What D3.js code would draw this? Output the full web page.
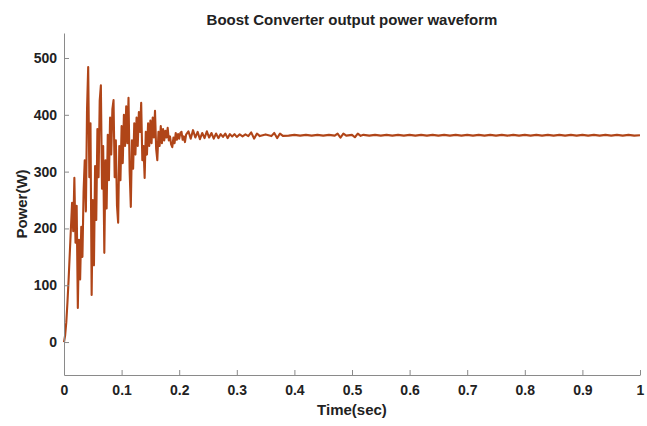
<!DOCTYPE html>
<html>
<head>
<meta charset="utf-8">
<script src="https://cdn.jsdelivr.net/npm/d3@7"></script>
<style>
  body { margin: 0; background: #fff; }
  text { font-family: "Liberation Sans", Arial, sans-serif; }
</style>
</head>
<body>
<div id="chart"></div>
<script>
// waveform samples (time in s, power in W)
const timeTransient = [
  0.000, 0.002, 0.004, 0.006, 0.008, 0.010, 0.012, 0.014, 0.016, 0.018,
  0.020, 0.022, 0.024, 0.026, 0.028, 0.030, 0.032, 0.034, 0.036, 0.038,
  0.040, 0.042, 0.044, 0.046, 0.048, 0.050, 0.052, 0.054, 0.056, 0.058,
  0.060, 0.062, 0.064, 0.066, 0.068, 0.070, 0.072, 0.074, 0.076, 0.078,
  0.080, 0.082, 0.084, 0.086, 0.088, 0.090, 0.092, 0.094, 0.096, 0.098,
  0.100, 0.102, 0.104, 0.106, 0.108, 0.110, 0.112, 0.114, 0.116, 0.118,
  0.120, 0.122, 0.124, 0.126, 0.128, 0.130, 0.132, 0.134, 0.136, 0.138,
  0.140, 0.142, 0.144, 0.146, 0.148, 0.150, 0.152, 0.154, 0.156, 0.158,
  0.160, 0.162, 0.164, 0.166, 0.168, 0.170, 0.172, 0.174, 0.176, 0.178,
  0.180, 0.182, 0.184, 0.186, 0.188, 0.190, 0.192, 0.194, 0.196, 0.198,
  0.200, 0.202, 0.204, 0.206, 0.208, 0.210, 0.212
];
const powerTransient = [
  0, 12, 35, 70, 110, 155, 200, 245, 195, 289,
  175, 240, 60, 180, 110, 203, 150, 265, 320, 230,
  410, 484, 290, 385, 83, 250, 135, 310, 215, 375,
  290, 425, 452, 270, 345, 157, 320, 235, 365, 285,
  395, 330, 410, 426, 290, 355, 240, 210, 345, 285,
  380, 315, 400, 345, 415, 350, 430, 300, 238, 355,
  305, 385, 330, 395, 345, 405, 370, 421, 320, 345,
  289, 370, 330, 385, 345, 390, 350, 395, 360, 407,
  340, 320, 370, 345, 380, 350, 375, 355, 372, 360,
  377, 355, 362, 348, 343, 360, 350, 368, 356, 366,
  358, 368, 370, 356, 362, 352, 365
];
const timeSettling = [
  0.216, 0.220, 0.224, 0.228, 0.232, 0.236, 0.240, 0.244, 0.248, 0.252,
  0.256, 0.260, 0.264, 0.268, 0.272, 0.276, 0.280, 0.284, 0.288, 0.292,
  0.296, 0.300, 0.305, 0.310, 0.315, 0.320, 0.325, 0.330, 0.335, 0.340,
  0.350, 0.360, 0.365, 0.370, 0.375, 0.380
];
const powerSettling = [
  371, 358, 373, 360, 370, 357, 368, 359, 371, 360,
  368, 358, 367, 359, 366, 361, 367, 359, 366, 362,
  366, 361, 365.5, 362, 365.5, 362.5, 369, 358, 367, 362.5,
  365.5, 362.5, 368, 359, 367, 363
];
const timeSteady = [
  0.39, 0.40, 0.41, 0.42, 0.43, 0.44, 0.45, 0.46, 0.47, 0.475,
  0.48, 0.485, 0.49, 0.50, 0.505, 0.51, 0.515, 0.52, 0.53, 0.54,
  0.55, 0.56, 0.57, 0.58, 0.59, 0.60, 0.61, 0.62, 0.63, 0.64,
  0.65, 0.66, 0.67, 0.68, 0.69, 0.70, 0.71, 0.72, 0.73, 0.74,
  0.75, 0.76, 0.77, 0.78, 0.79, 0.80, 0.81, 0.82, 0.83, 0.84,
  0.85, 0.86, 0.87, 0.88, 0.89, 0.90, 0.91, 0.92, 0.93, 0.94,
  0.95, 0.96, 0.97, 0.98, 0.99, 1.00
];
const powerSteady = [
  363.3, 364.7, 363.3, 364.7, 363.3, 364.7, 363.3, 364.7, 363.3, 367,
  360, 367, 363.3, 364.7, 360.5, 367, 363, 364.7, 363.3, 364.7,
  363.3, 364.7, 363.3, 364.7, 363.3, 364.7, 363.3, 364.7, 363.3, 364.7,
  363.3, 364.7, 363.3, 364.7, 363.3, 364.7, 363.3, 364.7, 363.3, 364.7,
  363.3, 364.7, 363.3, 364.7, 363.3, 364.7, 363.3, 364.7, 363.3, 364.7,
  363.3, 364.7, 363.3, 364.7, 363.3, 364.7, 363.3, 364.7, 363.3, 364.7,
  363.3, 364.7, 363.3, 364.7, 363.3, 364
];

const xTicks = [0, 0.1, 0.2, 0.3, 0.4, 0.5, 0.6, 0.7, 0.8, 0.9, 1];
const yTicks = [0, 100, 200, 300, 400, 500];

const data = [
  ...timeTransient.map((t, i) => ({ t, p: powerTransient[i] })),
  ...timeSettling.map((t, i) => ({ t, p: powerSettling[i] })),
  ...timeSteady.map((t, i) => ({ t, p: powerSteady[i] }))
];

// svg & margins
const W = 647, H = 426;
const margin = { top: 33, right: 7, bottom: 51, left: 64 };
const width  = W - margin.left - margin.right;
const height = H - margin.top - margin.bottom;

const svg = d3.select("#chart").append("svg")
  .attr("width", W)
  .attr("height", H);

const g = svg.append("g")
  .attr("transform", `translate(${margin.left},${margin.top})`);

const x = d3.scaleLinear().domain([0, 1]).range([0, width]);
const y = d3.scaleLinear().domain([-58, 544]).range([height, 0]);

const axisColor = "#8a8a8a";

// line
const lineGen = d3.line()
  .x(d => x(d.t))
  .y(d => y(d.p));

g.append("path")
  .datum(data)
  .attr("fill", "none")
  .attr("stroke", "#b04518")
  .attr("stroke-width", 2.1)
  .attr("stroke-linejoin", "round")
  .attr("d", lineGen);

// axes (ticks pointing inward, matlab style)
const xAxis = g.append("g")
  .attr("transform", `translate(0,${height})`)
  .call(d3.axisBottom(x).tickValues(xTicks).tickSize(-5).tickSizeOuter(0)
    .tickFormat(d => d3.format("~g")(d)));
const yAxis = g.append("g")
  .call(d3.axisLeft(y).tickValues(yTicks).tickSize(-5).tickSizeOuter(0));

[xAxis, yAxis].forEach(a => {
  a.select(".domain").attr("stroke", axisColor);
  a.selectAll(".tick line").attr("stroke", axisColor);
  a.selectAll("text")
    .attr("fill", "#222")
    .attr("font-family", "'Liberation Sans', Arial, sans-serif")
    .attr("font-size", 14)
    .attr("font-weight", "bold");
});
xAxis.selectAll("text").attr("dy", "1.2em");
yAxis.selectAll("text").attr("x", -7);

// title & labels
svg.append("text")
  .attr("x", margin.left + width / 2)
  .attr("y", 25)
  .attr("text-anchor", "middle")
  .attr("font-size", 15)
  .attr("font-weight", "bold")
  .attr("fill", "#222")
  .text("Boost Converter output power waveform");

svg.append("text")
  .attr("x", margin.left + width / 2)
  .attr("y", 415)
  .attr("text-anchor", "middle")
  .attr("font-size", 15)
  .attr("font-weight", "bold")
  .attr("fill", "#222")
  .text("Time(sec)");

svg.append("text")
  .attr("transform", `translate(27,${margin.top + height / 2}) rotate(-90)`)
  .attr("text-anchor", "middle")
  .attr("font-size", 15)
  .attr("font-weight", "bold")
  .attr("fill", "#222")
  .text("Power(W)");
</script>
</body>
</html>
